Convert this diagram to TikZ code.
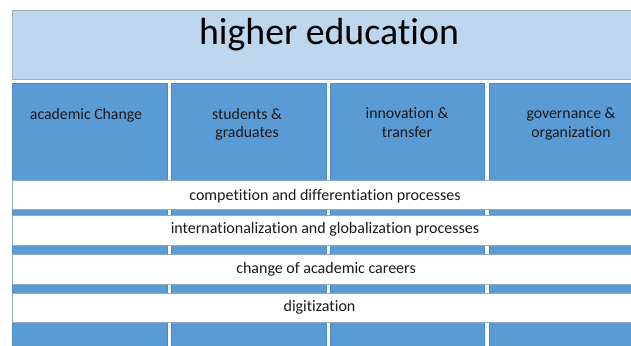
\documentclass[tikz,border=0pt]{standalone}
\usepackage{fontspec}
\setmainfont[Ligatures={NoCommon}]{Carlito}
\definecolor{colblue}{HTML}{5B9BD5}
\definecolor{topblue}{HTML}{BDD7EE}
\definecolor{topedge}{HTML}{9FB0C4}
\definecolor{bandedge}{HTML}{8EA9C8}
\definecolor{coledge}{HTML}{4F8CC6}
\definecolor{txt}{HTML}{1A1A1A}
\begin{document}
\begin{tikzpicture}[x=1pt,y=-1pt,
  topbox/.style={draw=topedge,line width=0.8pt,fill=topblue},
  colbox/.style={draw=coledge,line width=0.5pt,fill=colblue},
  band/.style={draw=bandedge,line width=0.8pt,fill=white},
  coltext/.style={font=\fontsize{15.8}{18.5}\selectfont,text=txt,align=center,anchor=north},
  bandtext/.style={font=\fontsize{16}{19}\selectfont,text=txt,anchor=center}]
\useasboundingbox (0,0) rectangle (631,345);
\fill[white] (0,0) rectangle (631,345);
% top box
\path[topbox] (12.5,10) rectangle (640,79.5);
\node[font=\fontsize{37.8}{44}\selectfont,text=black] (title) at (329,34.5) {higher education};
% columns
\path[colbox] (12.5,83) rectangle (167,350);
\path[colbox] (171,83) rectangle (326,350);
\path[colbox] (330,83) rectangle (484.5,350);
\path[colbox] (489,83) rectangle (640,350);
\node[coltext] (c1) at (86,104.5) {academic Change};
\node[coltext] (c2) at (247,104.5) {students \&\\graduates};
\node[coltext] (c3) at (407,104.5) {innovation \&\\transfer};
\node[coltext] (c4) at (571,104.5) {governance \&\\organization};
% bands
\path[band] (12.5,180) rectangle (640,209.5);
\path[band] (12.5,215) rectangle (640,245);
\path[band] (12.5,254) rectangle (640,284);
\path[band] (12.5,293) rectangle (640,322);
\node[bandtext] (b1) at (325,196) {competition and differentiation processes};
\node[bandtext] (b2) at (325,229.5) {internationalization and globalization processes};
\node[bandtext] (b3) at (326,269) {change of academic careers};
\node[bandtext] (b4) at (319.5,307) {digitization};
\end{tikzpicture}
\end{document}
